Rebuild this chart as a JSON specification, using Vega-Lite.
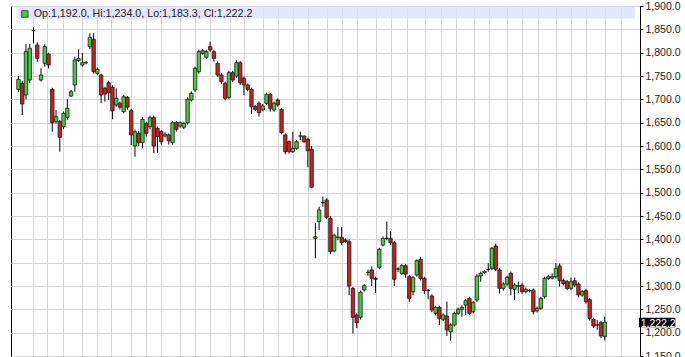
{
"$schema": "https://vega.github.io/schema/vega-lite/v6.json",
"width": 629, "height": 350,
"autosize": {"type": "none"},
"padding": {"left": 11, "top": 6, "right": 45, "bottom": 1},
"background": "white",
"config": {"view": {"stroke": "black", "strokeWidth": 1}, "font": "Liberation Sans", "axis": {"labelOverlap": false, "labelBound": false, "labelFlush": false}},
"datasets": {
"candles": [
{"i":0,"o":1721.5,"h":1750,"l":1715,"c":1742.9},
{"i":1,"o":1734.4,"h":1740,"l":1666.4,"c":1690},
{"i":2,"o":1709.3,"h":1818.6,"l":1700,"c":1802.1},
{"i":3,"o":1741.4,"h":1818.6,"l":1735,"c":1809.4},
{"i":4,"o":1847.1,"h":1854.4,"l":1820.1,"c":1847.1},
{"i":5,"o":1816.4,"h":1822,"l":1780.6,"c":1788},
{"i":6,"o":1741.4,"h":1766.5,"l":1738,"c":1752.1},
{"i":7,"o":1777.2,"h":1818,"l":1770,"c":1812.8},
{"i":8,"o":1797.1,"h":1800,"l":1766,"c":1773.6},
{"i":9,"o":1721.5,"h":1725,"l":1630.6,"c":1649.9},
{"i":10,"o":1652.1,"h":1677,"l":1648,"c":1662.8},
{"i":11,"o":1652.1,"h":1656,"l":1587.8,"c":1618.6},
{"i":12,"o":1641.4,"h":1674,"l":1636,"c":1670.1},
{"i":13,"o":1661.5,"h":1700.1,"l":1656,"c":1680.8},
{"i":14,"o":1707.1,"h":1720,"l":1705,"c":1716.4},
{"i":15,"o":1730.7,"h":1791.4,"l":1716.4,"c":1784.3},
{"i":16,"o":1782.8,"h":1807.2,"l":1780,"c":1787.1},
{"i":17,"o":1773.6,"h":1799.3,"l":1770,"c":1778.5},
{"i":18,"o":1778.5,"h":1782,"l":1775,"c":1778.5},
{"i":19,"o":1812.8,"h":1841.5,"l":1808,"c":1832.9},
{"i":20,"o":1828.6,"h":1841.5,"l":1755,"c":1759.2},
{"i":21,"o":1755.8,"h":1768,"l":1752,"c":1764.3},
{"i":22,"o":1752.1,"h":1755,"l":1691.5,"c":1709.3},
{"i":23,"o":1723.6,"h":1727,"l":1695,"c":1711.4},
{"i":24,"o":1735.6,"h":1740,"l":1698.6,"c":1714.2},
{"i":25,"o":1725.8,"h":1730,"l":1657.2,"c":1675.6},
{"i":26,"o":1687.9,"h":1723.6,"l":1684,"c":1702.2},
{"i":27,"o":1691.5,"h":1695,"l":1678,"c":1683.2},
{"i":28,"o":1673.5,"h":1709,"l":1670,"c":1705.6},
{"i":29,"o":1704.4,"h":1707,"l":1678,"c":1683.2},
{"i":30,"o":1675.6,"h":1680,"l":1602.1,"c":1623.6},
{"i":31,"o":1600,"h":1635,"l":1577.1,"c":1630.6},
{"i":32,"o":1627.2,"h":1632,"l":1600,"c":1607.1},
{"i":33,"o":1607.1,"h":1662,"l":1595,"c":1657.2},
{"i":34,"o":1648.6,"h":1652,"l":1620,"c":1627.2},
{"i":35,"o":1641.4,"h":1665,"l":1636,"c":1660.6},
{"i":36,"o":1660.6,"h":1665,"l":1584.4,"c":1600},
{"i":37,"o":1638,"h":1642,"l":1585,"c":1620},
{"i":38,"o":1630.6,"h":1634,"l":1603,"c":1609.2},
{"i":39,"o":1621.4,"h":1629,"l":1618,"c":1625},
{"i":40,"o":1623.6,"h":1627,"l":1603,"c":1611.4},
{"i":41,"o":1607.1,"h":1654,"l":1603,"c":1650},
{"i":42,"o":1650,"h":1654,"l":1631,"c":1635.8},
{"i":43,"o":1642.9,"h":1653,"l":1639,"c":1650},
{"i":44,"o":1640.1,"h":1652,"l":1636,"c":1648.6},
{"i":45,"o":1650,"h":1704,"l":1646,"c":1700.1},
{"i":46,"o":1698.6,"h":1717,"l":1695,"c":1713},
{"i":47,"o":1720,"h":1770,"l":1716,"c":1766.5},
{"i":48,"o":1759.2,"h":1806,"l":1755,"c":1802.1},
{"i":49,"o":1798.6,"h":1808,"l":1795,"c":1804.3},
{"i":50,"o":1790.1,"h":1806,"l":1786,"c":1802.1},
{"i":51,"o":1812.8,"h":1823.5,"l":1801,"c":1805.7},
{"i":52,"o":1802.1,"h":1806,"l":1781,"c":1787.9},
{"i":53,"o":1777.2,"h":1781,"l":1748,"c":1752.1},
{"i":54,"o":1752.1,"h":1756,"l":1733,"c":1737.8},
{"i":55,"o":1734.4,"h":1738,"l":1698,"c":1702.2},
{"i":56,"o":1704.4,"h":1761,"l":1700,"c":1757.1},
{"i":57,"o":1757.1,"h":1761,"l":1737,"c":1741.4},
{"i":58,"o":1750,"h":1784,"l":1746,"c":1778.5},
{"i":59,"o":1778.5,"h":1782,"l":1731,"c":1735.6},
{"i":60,"o":1745.1,"h":1749,"l":1709.3,"c":1730.7},
{"i":61,"o":1730.7,"h":1734,"l":1717,"c":1721.5},
{"i":62,"o":1721.5,"h":1725,"l":1668.6,"c":1684.2},
{"i":63,"o":1684.2,"h":1688,"l":1675,"c":1678.6},
{"i":64,"o":1691.5,"h":1695,"l":1662.8,"c":1671.3},
{"i":65,"o":1677.6,"h":1690,"l":1674,"c":1685.7},
{"i":66,"o":1691.5,"h":1714.2,"l":1688,"c":1710.8},
{"i":67,"o":1710.8,"h":1714.2,"l":1673.5,"c":1680.8},
{"i":68,"o":1677.1,"h":1695,"l":1673,"c":1691.5},
{"i":69,"o":1698.6,"h":1702,"l":1684,"c":1687.9},
{"i":70,"o":1678.6,"h":1682,"l":1625,"c":1628.5},
{"i":71,"o":1623.6,"h":1627,"l":1582.2,"c":1587.8},
{"i":72,"o":1609.2,"h":1612,"l":1584,"c":1587.8},
{"i":73,"o":1587.8,"h":1630.6,"l":1585,"c":1595},
{"i":74,"o":1595,"h":1613,"l":1592,"c":1609.2},
{"i":75,"o":1621.4,"h":1630.6,"l":1612.8,"c":1621.4},
{"i":76,"o":1621.4,"h":1623,"l":1607,"c":1609.2},
{"i":77,"o":1614.3,"h":1618,"l":1554.3,"c":1590},
{"i":78,"o":1593,"h":1600,"l":1509.4,"c":1511.5},
{"i":79,"o":1402,"h":1435.6,"l":1359.4,"c":1405.6},
{"i":80,"o":1437.8,"h":1470,"l":1420,"c":1462.9},
{"i":81,"o":1478.6,"h":1491.4,"l":1470,"c":1478.6},
{"i":82,"o":1484.3,"h":1488,"l":1443,"c":1447},
{"i":83,"o":1445,"h":1450,"l":1368,"c":1373.6},
{"i":84,"o":1375,"h":1412,"l":1372,"c":1408.9},
{"i":85,"o":1404.3,"h":1426,"l":1398,"c":1404.3},
{"i":86,"o":1404.3,"h":1426,"l":1388,"c":1392.7},
{"i":87,"o":1398.6,"h":1402,"l":1392,"c":1395},
{"i":88,"o":1395,"h":1400,"l":1280.7,"c":1300},
{"i":89,"o":1295,"h":1298,"l":1198.6,"c":1232.9},
{"i":90,"o":1237.9,"h":1241,"l":1210,"c":1221.4},
{"i":91,"o":1232.9,"h":1290,"l":1228,"c":1286.5},
{"i":92,"o":1291.5,"h":1304,"l":1288,"c":1300.7},
{"i":93,"o":1329.3,"h":1335,"l":1322,"c":1329.3},
{"i":94,"o":1334.3,"h":1342,"l":1300,"c":1316.5},
{"i":95,"o":1316.5,"h":1320,"l":1284.9,"c":1314},
{"i":96,"o":1340,"h":1382,"l":1336,"c":1378.6},
{"i":97,"o":1387.9,"h":1406,"l":1385,"c":1402.1},
{"i":98,"o":1402.1,"h":1437.8,"l":1398,"c":1402.1},
{"i":99,"o":1402.1,"h":1418,"l":1388,"c":1392.7},
{"i":100,"o":1392.7,"h":1396,"l":1300,"c":1314.3},
{"i":101,"o":1336.4,"h":1340,"l":1330,"c":1336.4},
{"i":102,"o":1327.1,"h":1347,"l":1324,"c":1343.5},
{"i":103,"o":1343.5,"h":1347,"l":1318,"c":1325.7},
{"i":104,"o":1320,"h":1324,"l":1266,"c":1273.6},
{"i":105,"o":1287.6,"h":1321,"l":1280,"c":1317.9},
{"i":106,"o":1323.6,"h":1357,"l":1320,"c":1354.3},
{"i":107,"o":1357.1,"h":1362,"l":1312,"c":1316.5},
{"i":108,"o":1316.5,"h":1320,"l":1283,"c":1290},
{"i":109,"o":1290,"h":1294,"l":1271.6,"c":1290},
{"i":110,"o":1278.6,"h":1282,"l":1244,"c":1248.6},
{"i":111,"o":1241.4,"h":1258,"l":1237,"c":1254.3},
{"i":112,"o":1254.3,"h":1258,"l":1216.4,"c":1230.7},
{"i":113,"o":1228.6,"h":1241,"l":1225,"c":1237.9},
{"i":114,"o":1235.7,"h":1266.4,"l":1192.9,"c":1205.7},
{"i":115,"o":1202.1,"h":1220,"l":1182.7,"c":1216.4},
{"i":116,"o":1216.4,"h":1245,"l":1213,"c":1241.4},
{"i":117,"o":1241.4,"h":1254,"l":1238,"c":1250},
{"i":118,"o":1250,"h":1259,"l":1234,"c":1254.3},
{"i":119,"o":1259.3,"h":1272,"l":1238,"c":1268.6},
{"i":120,"o":1273.6,"h":1277,"l":1238,"c":1241.4},
{"i":121,"o":1244.9,"h":1268,"l":1241,"c":1264.3},
{"i":122,"o":1270,"h":1325,"l":1266,"c":1321.4},
{"i":123,"o":1321.4,"h":1330.7,"l":1309,"c":1327.1},
{"i":124,"o":1328.6,"h":1334,"l":1326,"c":1331.4},
{"i":125,"o":1335.7,"h":1348.6,"l":1330.7,"c":1335.7},
{"i":126,"o":1337.9,"h":1384,"l":1334,"c":1380.8},
{"i":127,"o":1385.7,"h":1390.6,"l":1332,"c":1335.7},
{"i":128,"o":1334.3,"h":1338,"l":1284,"c":1295},
{"i":129,"o":1295,"h":1308,"l":1290,"c":1304.3},
{"i":130,"o":1304.3,"h":1322,"l":1300,"c":1318.6},
{"i":131,"o":1327.1,"h":1331,"l":1280,"c":1295},
{"i":132,"o":1293,"h":1306,"l":1270,"c":1302.1},
{"i":133,"o":1300,"h":1309,"l":1285,"c":1300},
{"i":134,"o":1302.1,"h":1306,"l":1283,"c":1287.9},
{"i":135,"o":1287.9,"h":1297,"l":1284,"c":1292.9},
{"i":136,"o":1290,"h":1294,"l":1286,"c":1290},
{"i":137,"o":1291.4,"h":1295,"l":1239,"c":1244.9},
{"i":138,"o":1247.1,"h":1256,"l":1243,"c":1252.1},
{"i":139,"o":1252.1,"h":1277,"l":1249,"c":1273.6},
{"i":140,"o":1277.1,"h":1320,"l":1273,"c":1316.5},
{"i":141,"o":1316.5,"h":1324,"l":1313,"c":1320},
{"i":142,"o":1317,"h":1327,"l":1314,"c":1320},
{"i":143,"o":1320,"h":1349,"l":1316,"c":1338},
{"i":144,"o":1343,"h":1348,"l":1299,"c":1311.4},
{"i":145,"o":1312,"h":1316,"l":1301,"c":1305},
{"i":146,"o":1309.2,"h":1313,"l":1291,"c":1295},
{"i":147,"o":1295,"h":1318,"l":1291,"c":1309.2},
{"i":148,"o":1311.4,"h":1318,"l":1297,"c":1302.1},
{"i":149,"o":1304.3,"h":1308,"l":1276,"c":1280.7},
{"i":150,"o":1280.7,"h":1291,"l":1277,"c":1287.9},
{"i":151,"o":1290,"h":1294,"l":1262,"c":1266.4},
{"i":152,"o":1270.7,"h":1274,"l":1226,"c":1230.7},
{"i":153,"o":1228.6,"h":1232,"l":1210,"c":1214.3},
{"i":154,"o":1216.4,"h":1227,"l":1206,"c":1216.4},
{"i":155,"o":1221.4,"h":1225,"l":1188,"c":1192.9},
{"i":156,"o":1192,"h":1234,"l":1183.3,"c":1222.2}
],
"header": [{"label": "Op:1,192.0, Hi:1,234.0, Lo:1,183.3, Cl:1,222.2"}],
"last": [{"label": "1,222.2"}]
},
"layer": [
{
"data": {"name": "candles"},
"mark": {"type": "rule", "color": "black", "strokeWidth": 1},
"encoding": {
"x": {"field": "i", "type": "quantitative", "scale": {"domain": [-0.655, 164.05], "nice": false, "zero": false},
"axis": {"orient": "bottom", "values": [3.8, 7.72, 11.91, 16.89, 20.82, 24.74, 29.98, 33.91, 37.84, 43.07, 47.0, 50.93, 56.17, 60.1, 65.07, 69.0, 72.92, 76.98, 82.09, 86.02, 90.07, 95.18, 99.24, 103.3, 108.27, 112.33, 116.39, 121.1, 125.3, 130.0, 133.94, 138.12, 142.97, 147.03, 150.96, 156.2, 160.25], "grid": true, "gridColor": "#d6d6d6", "labels": false, "ticks": false, "domain": false, "title": null}},
"y": {"field": "l", "type": "quantitative", "scale": {"domain": [1150, 1900], "nice": false, "zero": false},
"axis": {"orient": "right", "values": [1150, 1200, 1250, 1300, 1350, 1400, 1450, 1500, 1550, 1600, 1650, 1700, 1750, 1800, 1850, 1900], "format": ",.1f", "grid": true, "gridColor": "#d6d6d6", "tickSize": 3, "tickColor": "black", "domainColor": "black", "labelFont": "Liberation Sans", "labelFontSize": 10.5, "labelColor": "#222", "labelPadding": 2, "labelOverlap": false, "labelFlush": false, "labelBound": false, "title": null}},
"y2": {"field": "h"}
}
},
{
"data": {"values": [{}]},
"mark": {"type": "rect", "fill": "#dedef8", "opacity": 0.75},
"encoding": {
"x": {"datum": -0.5, "type": "quantitative", "scale": {"domain": [-0.655, 164.05], "nice": false, "zero": false},
"axis": {"orient": "bottom", "values": [3.8, 7.72, 11.91, 16.89, 20.82, 24.74, 29.98, 33.91, 37.84, 43.07, 47.0, 50.93, 56.17, 60.1, 65.07, 69.0, 72.92, 76.98, 82.09, 86.02, 90.07, 95.18, 99.24, 103.3, 108.27, 112.33, 116.39, 121.1, 125.3, 130.0, 133.94, 138.12, 142.97, 147.03, 150.96, 156.2, 160.25], "grid": true, "gridColor": "#d6d6d6", "labels": false, "ticks": false, "domain": false, "title": null}},
"x2": {"datum": 164.0},
"y": {"datum": 1899.6, "type": "quantitative", "scale": {"domain": [1150, 1900], "nice": false, "zero": false},
"axis": {"orient": "right", "values": [1150, 1200, 1250, 1300, 1350, 1400, 1450, 1500, 1550, 1600, 1650, 1700, 1750, 1800, 1850, 1900], "format": ",.1f", "grid": true, "gridColor": "#d6d6d6", "tickSize": 3, "tickColor": "black", "domainColor": "black", "labelFont": "Liberation Sans", "labelFontSize": 10.5, "labelColor": "#222", "labelPadding": 2, "labelOverlap": false, "labelFlush": false, "labelBound": false, "title": null}},
"y2": {"datum": 1873.4}
}
},
{
"data": {"name": "candles"},
"mark": {"type": "bar", "size": 3.4, "stroke": "#1a1a1a", "strokeWidth": 0.8},
"encoding": {
"x": {"field": "i", "type": "quantitative", "scale": {"domain": [-0.655, 164.05], "nice": false, "zero": false},
"axis": {"orient": "bottom", "values": [3.8, 7.72, 11.91, 16.89, 20.82, 24.74, 29.98, 33.91, 37.84, 43.07, 47.0, 50.93, 56.17, 60.1, 65.07, 69.0, 72.92, 76.98, 82.09, 86.02, 90.07, 95.18, 99.24, 103.3, 108.27, 112.33, 116.39, 121.1, 125.3, 130.0, 133.94, 138.12, 142.97, 147.03, 150.96, 156.2, 160.25], "grid": true, "gridColor": "#d6d6d6", "labels": false, "ticks": false, "domain": false, "title": null}},
"y": {"field": "o", "type": "quantitative", "scale": {"domain": [1150, 1900], "nice": false, "zero": false},
"axis": {"orient": "right", "values": [1150, 1200, 1250, 1300, 1350, 1400, 1450, 1500, 1550, 1600, 1650, 1700, 1750, 1800, 1850, 1900], "format": ",.1f", "grid": true, "gridColor": "#d6d6d6", "tickSize": 3, "tickColor": "black", "domainColor": "black", "labelFont": "Liberation Sans", "labelFontSize": 10.5, "labelColor": "#222", "labelPadding": 2, "labelOverlap": false, "labelFlush": false, "labelBound": false, "title": null}},
"y2": {"field": "c"},
"fill": {"condition": {"test": "datum.c >= datum.o", "value": "#3dcf3d"}, "value": "#cb2020"}
}
},
{
"data": {"values": [{}]},
"mark": {"type": "rect", "fill": "#3dcf3d", "stroke": "#333", "strokeWidth": 0.8},
"encoding": {
"x": {"datum": 0.84, "type": "quantitative", "scale": {"domain": [-0.655, 164.05], "nice": false, "zero": false},
"axis": {"orient": "bottom", "values": [3.8, 7.72, 11.91, 16.89, 20.82, 24.74, 29.98, 33.91, 37.84, 43.07, 47.0, 50.93, 56.17, 60.1, 65.07, 69.0, 72.92, 76.98, 82.09, 86.02, 90.07, 95.18, 99.24, 103.3, 108.27, 112.33, 116.39, 121.1, 125.3, 130.0, 133.94, 138.12, 142.97, 147.03, 150.96, 156.2, 160.25], "grid": true, "gridColor": "#d6d6d6", "labels": false, "ticks": false, "domain": false, "title": null}},
"x2": {"datum": 2.56},
"y": {"datum": 1889.9, "type": "quantitative", "scale": {"domain": [1150, 1900], "nice": false, "zero": false},
"axis": {"orient": "right", "values": [1150, 1200, 1250, 1300, 1350, 1400, 1450, 1500, 1550, 1600, 1650, 1700, 1750, 1800, 1850, 1900], "format": ",.1f", "grid": true, "gridColor": "#d6d6d6", "tickSize": 3, "tickColor": "black", "domainColor": "black", "labelFont": "Liberation Sans", "labelFontSize": 10.5, "labelColor": "#222", "labelPadding": 2, "labelOverlap": false, "labelFlush": false, "labelBound": false, "title": null}},
"y2": {"datum": 1875.8}
}
},
{
"data": {"name": "header"},
"mark": {"type": "text", "align": "left", "baseline": "alphabetic", "font": "Liberation Sans", "fontSize": 10.7, "color": "#222"},
"encoding": {
"x": {"datum": 4.06, "type": "quantitative", "scale": {"domain": [-0.655, 164.05], "nice": false, "zero": false},
"axis": {"orient": "bottom", "values": [3.8, 7.72, 11.91, 16.89, 20.82, 24.74, 29.98, 33.91, 37.84, 43.07, 47.0, 50.93, 56.17, 60.1, 65.07, 69.0, 72.92, 76.98, 82.09, 86.02, 90.07, 95.18, 99.24, 103.3, 108.27, 112.33, 116.39, 121.1, 125.3, 130.0, 133.94, 138.12, 142.97, 147.03, 150.96, 156.2, 160.25], "grid": true, "gridColor": "#d6d6d6", "labels": false, "ticks": false, "domain": false, "title": null}},
"y": {"datum": 1876.9, "type": "quantitative", "scale": {"domain": [1150, 1900], "nice": false, "zero": false},
"axis": {"orient": "right", "values": [1150, 1200, 1250, 1300, 1350, 1400, 1450, 1500, 1550, 1600, 1650, 1700, 1750, 1800, 1850, 1900], "format": ",.1f", "grid": true, "gridColor": "#d6d6d6", "tickSize": 3, "tickColor": "black", "domainColor": "black", "labelFont": "Liberation Sans", "labelFontSize": 10.5, "labelColor": "#222", "labelPadding": 2, "labelOverlap": false, "labelFlush": false, "labelBound": false, "title": null}},
"text": {"field": "label"}
}
},
{
"data": {"values": [{}]},
"mark": {"type": "rect", "fill": "black"},
"encoding": {
"x": {"datum": 165.1, "type": "quantitative", "scale": {"domain": [-0.655, 164.05], "nice": false, "zero": false},
"axis": {"orient": "bottom", "values": [3.8, 7.72, 11.91, 16.89, 20.82, 24.74, 29.98, 33.91, 37.84, 43.07, 47.0, 50.93, 56.17, 60.1, 65.07, 69.0, 72.92, 76.98, 82.09, 86.02, 90.07, 95.18, 99.24, 103.3, 108.27, 112.33, 116.39, 121.1, 125.3, 130.0, 133.94, 138.12, 142.97, 147.03, 150.96, 156.2, 160.25], "grid": true, "gridColor": "#d6d6d6", "labels": false, "ticks": false, "domain": false, "title": null}},
"x2": {"datum": 174.8},
"y": {"datum": 1232, "type": "quantitative", "scale": {"domain": [1150, 1900], "nice": false, "zero": false},
"axis": {"orient": "right", "values": [1150, 1200, 1250, 1300, 1350, 1400, 1450, 1500, 1550, 1600, 1650, 1700, 1750, 1800, 1850, 1900], "format": ",.1f", "grid": true, "gridColor": "#d6d6d6", "tickSize": 3, "tickColor": "black", "domainColor": "black", "labelFont": "Liberation Sans", "labelFontSize": 10.5, "labelColor": "#222", "labelPadding": 2, "labelOverlap": false, "labelFlush": false, "labelBound": false, "title": null}},
"y2": {"datum": 1211.5}
}
},
{
"data": {"name": "last"},
"mark": {"type": "text", "align": "left", "baseline": "alphabetic", "font": "Liberation Sans", "fontSize": 10.5, "color": "white"},
"encoding": {
"x": {"datum": 165.55, "type": "quantitative", "scale": {"domain": [-0.655, 164.05], "nice": false, "zero": false},
"axis": {"orient": "bottom", "values": [3.8, 7.72, 11.91, 16.89, 20.82, 24.74, 29.98, 33.91, 37.84, 43.07, 47.0, 50.93, 56.17, 60.1, 65.07, 69.0, 72.92, 76.98, 82.09, 86.02, 90.07, 95.18, 99.24, 103.3, 108.27, 112.33, 116.39, 121.1, 125.3, 130.0, 133.94, 138.12, 142.97, 147.03, 150.96, 156.2, 160.25], "grid": true, "gridColor": "#d6d6d6", "labels": false, "ticks": false, "domain": false, "title": null}},
"y": {"datum": 1212.6, "type": "quantitative", "scale": {"domain": [1150, 1900], "nice": false, "zero": false},
"axis": {"orient": "right", "values": [1150, 1200, 1250, 1300, 1350, 1400, 1450, 1500, 1550, 1600, 1650, 1700, 1750, 1800, 1850, 1900], "format": ",.1f", "grid": true, "gridColor": "#d6d6d6", "tickSize": 3, "tickColor": "black", "domainColor": "black", "labelFont": "Liberation Sans", "labelFontSize": 10.5, "labelColor": "#222", "labelPadding": 2, "labelOverlap": false, "labelFlush": false, "labelBound": false, "title": null}},
"text": {"field": "label"}
}
}
]
}
